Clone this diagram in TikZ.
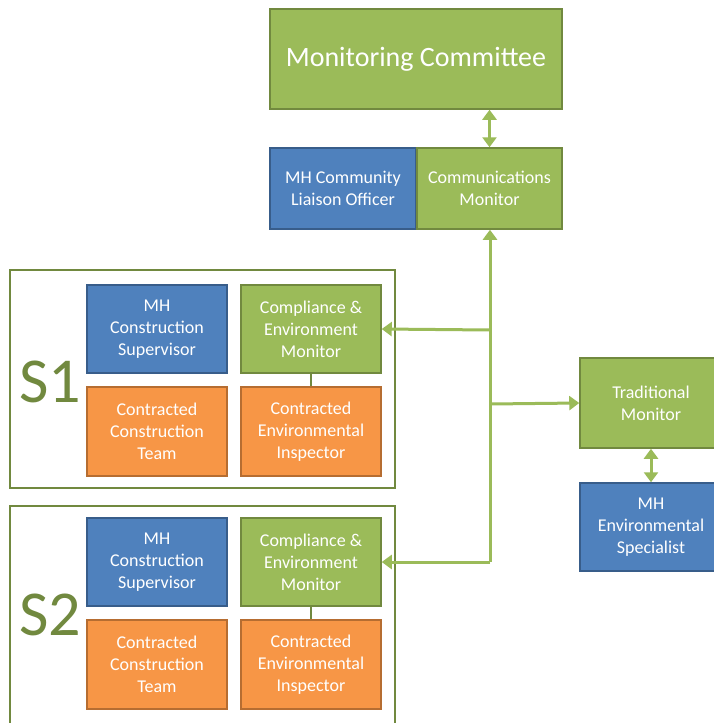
\documentclass[tikz,border=0pt]{standalone}
\usepackage{fontspec}
\setmainfont{Carlito}
\usetikzlibrary{arrows.meta,calc}
\definecolor{mhgreen}{HTML}{9BBB59}
\definecolor{mhgreendark}{HTML}{71893F}
\definecolor{mhblue}{HTML}{4F81BD}
\definecolor{mhbluedark}{HTML}{385D8A}
\definecolor{mhorange}{HTML}{F79646}
\definecolor{mhorangedark}{HTML}{B66D31}

\begin{document}
\begin{tikzpicture}[x=1pt,y=-1pt,
  box/.style={draw,line width=1.5pt,inner sep=0pt,align=center,text=white,
    font=\fontsize{18}{22}\selectfont},
  grn/.style={box,fill=mhgreen,draw=mhgreendark},
  blu/.style={box,fill=mhblue,draw=mhbluedark},
  org/.style={box,fill=mhorange,draw=mhorangedark},
  frame/.style={draw=mhgreendark,line width=2pt},
  link/.style={draw=mhgreen,line width=3pt},
  tip/.style={-{Triangle[width=14pt,length=10pt]}},
  tips/.style={{Triangle[width=14pt,length=10pt]}-{Triangle[width=14pt,length=10pt]}}]
\clip (0,0) rectangle (714,723);
\fill[white] (0,0) rectangle (714,723);
% top
\node[grn,minimum width=292pt,minimum height=100pt,font=\fontsize{28}{32}\selectfont]
  (mc) at (416,59) {Monitoring Committee};
\node[blu,minimum width=146pt,minimum height=81pt] (clo) at (343,188.5)
  {MH Community\\Liaison Officer};
\node[grn,minimum width=145pt,minimum height=81pt] (cm) at (489.5,188.5)
  {Communications\\Monitor};
% sites
\draw[frame] (10,270) rectangle (395,488);
\draw[frame] (10,506) rectangle (395,740);
\foreach \s/\dy in {1/0,2/233}{
  \node[text=mhgreendark,font=\fontsize{64}{64}\selectfont] (lbl\s) at (50,382+\dy) {S\s};
  \node[blu,minimum width=140pt,minimum height=88pt] (mhcs\s) at (157,329+\dy)
    {MH\\Construction\\Supervisor};
  \node[grn,minimum width=140pt,minimum height=88pt] (cem\s) at (311,329+\dy)
    {Compliance \&\\Environment\\Monitor};
  \node[org,minimum width=140pt,minimum height=89pt] (cct\s) at (157,431.5+\dy)
    {Contracted\\Construction\\Team};
  \node[org,minimum width=140pt,minimum height=89pt] (cei\s) at (311,431.5+\dy)
    {Contracted\\Environmental\\Inspector};
  \draw[mhgreendark,line width=2pt] (cem\s.south) -- (cei\s.north);
}
% right side
\node[grn,minimum width=142pt,minimum height=90pt] (tm) at (651,403)
  {Traditional\\Monitor};
\node[blu,minimum width=142pt,minimum height=88pt] (mhes) at (651,527)
  {MH\\Environmental\\Specialist};
% connectors
\coordinate (j1) at (490,330);
\coordinate (j2) at (490,404);
\coordinate (j3) at (490,562);
\draw[link,tips] (cm.north) -- (cm.north |- mc.south);
\draw[link,tip] (j3) -- (j3 |- cm.south);
\draw[link,tip] (j1) -- (cem1.east);
\draw[link,tip] (j2) -- (tm.west);
\draw[link,tip] (j3) -- (cem2.east);
\draw[link,tips] (tm.south) -- (mhes.north);
\end{tikzpicture}
\end{document}
